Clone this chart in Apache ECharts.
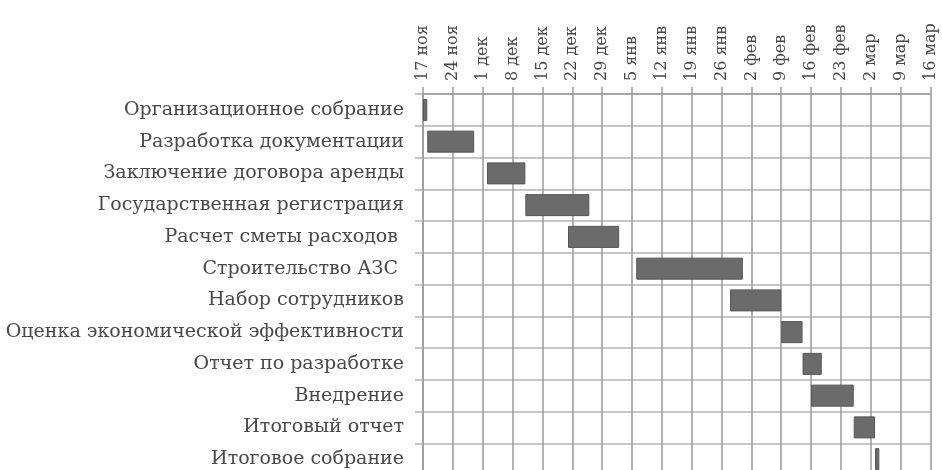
<!DOCTYPE html>
<html>
<head>
<meta charset="utf-8">
<script src="https://cdn.jsdelivr.net/npm/echarts@6/dist/echarts.min.js"></script>
<style>
  html, body { margin: 0; padding: 0; background: #ffffff; }
  #chart { width: 942px; height: 470px; }
</style>
</head>
<body>
<div id="chart"></div>
<script>
// Project stages, top to bottom
const tasks = [
  'Организационное собрание',
  'Разработка документации',
  'Заключение договора аренды',
  'Государственная регистрация',
  'Расчет сметы расходов ',
  'Строительство АЗС ',
  'Набор сотрудников',
  'Оценка экономической эффективности',
  'Отчет по разработке',
  'Внедрение',
  'Итоговый отчет',
  'Итоговое собрание'
];

// Start of each stage, days after 17 ноя
const startDay = [0, 1, 15, 24, 34, 50, 72, 84, 89, 91, 101, 106];

// Length of each stage, days
const durationDays = [1, 11, 9, 15, 12, 25, 12, 5, 4.5, 10, 5, 1];

// Weekly tick labels along the time scale
const weekLabels = [
  '17 ноя', '24 ноя', '1 дек', '8 дек', '15 дек', '22 дек', '29 дек',
  '5 янв', '12 янв', '19 янв', '26 янв', '2 фев', '9 фев', '16 фев',
  '23 фев', '2 мар', '9 мар', '16 мар'
];

const DAYS_PER_WEEK = 7;
const serif = 'DejaVu Serif';

const chart = echarts.init(document.getElementById('chart'));

chart.setOption({
  animation: false,
  backgroundColor: '#ffffff',
  grid: {
    left: 423,
    top: 94,
    width: 507.5,
    height: 381,
    containLabel: false,
    outerBoundsMode: 'none'
  },
  xAxis: {
    type: 'value',
    position: 'top',
    min: 0,
    max: (weekLabels.length - 1) * DAYS_PER_WEEK,
    interval: DAYS_PER_WEEK,
    axisLine: { show: true, lineStyle: { color: '#9a9a9a', width: 1.5 } },
    axisTick: { show: true, length: 7, lineStyle: { color: '#9a9a9a', width: 1.5 } },
    splitLine: { show: true, lineStyle: { color: '#9a9a9a', width: 1.5 } },
    axisLabel: {
      rotate: -90,
      margin: 13,
      fontFamily: serif,
      fontSize: 16,
      color: '#484848',
      formatter: v => weekLabels[Math.round(v / DAYS_PER_WEEK)]
    }
  },
  yAxis: {
    type: 'category',
    inverse: true,
    data: tasks,
    axisLine: { show: true, lineStyle: { color: '#9a9a9a', width: 1.5 } },
    axisTick: { show: true, length: 8, lineStyle: { color: '#b3b3b3', width: 1.5 } },
    splitLine: { show: true, lineStyle: { color: '#b3b3b3', width: 1.5 } },
    axisLabel: {
      interval: 0,
      margin: 19,
      fontFamily: serif,
      fontSize: 19,
      color: '#484848'
    }
  },
  series: [
    {
      name: 'offset',
      type: 'bar',
      stack: 'gantt',
      silent: true,
      barWidth: 22,
      itemStyle: { color: 'transparent' },
      data: startDay
    },
    {
      name: 'duration',
      type: 'bar',
      stack: 'gantt',
      barWidth: 22,
      itemStyle: { color: '#6b6b6b', borderColor: '#555555', borderWidth: 1 },
      data: durationDays
    }
  ]
});
</script>
</body>
</html>
